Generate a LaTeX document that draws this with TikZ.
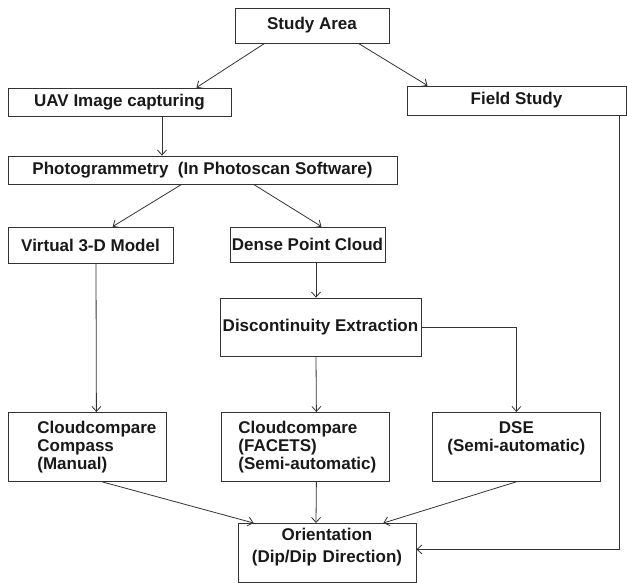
\documentclass[tikz,border=0pt]{standalone}
\usepackage{fontspec}
\setmainfont{Liberation Sans}
\usetikzlibrary{arrows.meta}

\begin{document}
\begin{tikzpicture}[x=1pt,y=-1pt,
        box/.style={draw=black!80, line width=0.8pt, inner sep=2pt, text=black!90,
            font=\fontsize{17}{18}\selectfont\bfseries},
        tallbox/.style={box, anchor=north west, inner xsep=4pt, inner ysep=9pt,
            text height=12pt, text depth=39pt},
        arr/.style={draw=black!80, line width=0.8pt, -{Straight Barb[length=5pt,width=9pt]}}]
        \useasboundingbox (0,0) rectangle (627,583);

        % Top rows
        \node[box, minimum width=154pt, minimum height=35pt] (area) at (312,25.5) {Study Area};
        \node[box, minimum width=223pt, minimum height=28pt] (uav) at (119.5,102) {UAV Image capturing};
        \node[box, minimum width=219pt, minimum height=29pt] (field) at (516.5,100.5) {Field Study};
        \node[box, minimum width=389pt, minimum height=28pt] (photo) at (202.5,170) {Photogrammetry~ (In Photoscan Software)};

        % Middle rows
        \node[box, minimum width=165pt, minimum height=36pt] (model) at (90.5,245) {Virtual 3-D Model};
        \node[box, minimum width=155pt, minimum height=35pt] (cloud) at (307.5,244.5) {Dense Point Cloud};
        \node[box, minimum width=201pt, minimum height=58pt] (extract) at (320.5,327) {Discontinuity Extraction};

        % Methods
        \node[tallbox, text width=150pt, align=left, execute at begin node={\leftskip=25pt}]
            (manual) at (8,412) {Cloudcompare\\Compass\\(Manual)};
        \node[tallbox, text width=160pt, align=left, execute at begin node={\leftskip=13pt}]
            (facets) at (221,412) {Cloudcompare\\(FACETS)\\(Semi-automatic)};
        \node[tallbox, text width=160pt, align=center] (dse) at (432,412) {DSE\\(Semi-automatic)};

        % Result
        \node[box, anchor=north, text width=170pt, inner xsep=4pt, inner ysep=5pt, text height=12pt,
            text depth=37pt, align=center] (orient) at (327,523) {Orientation\\[4pt](Dip/Dip Direction)};

        % Connectors
        \draw[arr] ([xshift=30pt]area.south west) -- ([xshift=-35pt]uav.north east);
        \draw[arr] ([xshift=-31pt]area.south east) -- ([xshift=21pt]field.north west);
        \draw[arr] ([xshift=42.5pt]uav.south) -- ([xshift=-40.5pt]photo.north);
        \draw[arr] ([xshift=174pt]photo.south west) -- ([xshift=105pt]model.north west);
        \draw[arr] ([xshift=246pt]photo.south west) -- ([xshift=92pt]cloud.north west);
        \draw[arr] ([xshift=8.5pt]cloud.south) -- ([xshift=-4.5pt]extract.north);
        \draw[arr] ([xshift=5.5pt]model.south) -- ([xshift=9pt]manual.north);
        \draw[arr] ([xshift=-4.5pt]extract.south) -- ([xshift=11pt]facets.north);
        \draw[arr] (extract.east) -| (dse.north);
        \draw[arr] ([xshift=94pt]manual.south west) -- ([xshift=16pt]orient.north west);
        \draw[arr] ([xshift=11pt]facets.south) -- ([xshift=-11pt]orient.north);
        \draw[arr] (dse.south) -- ([xshift=-33pt]orient.north east);
        \draw[arr] ([xshift=-7pt]field.south east) |- ([yshift=3.5pt]orient.east);
    \end{tikzpicture}
\end{document}
